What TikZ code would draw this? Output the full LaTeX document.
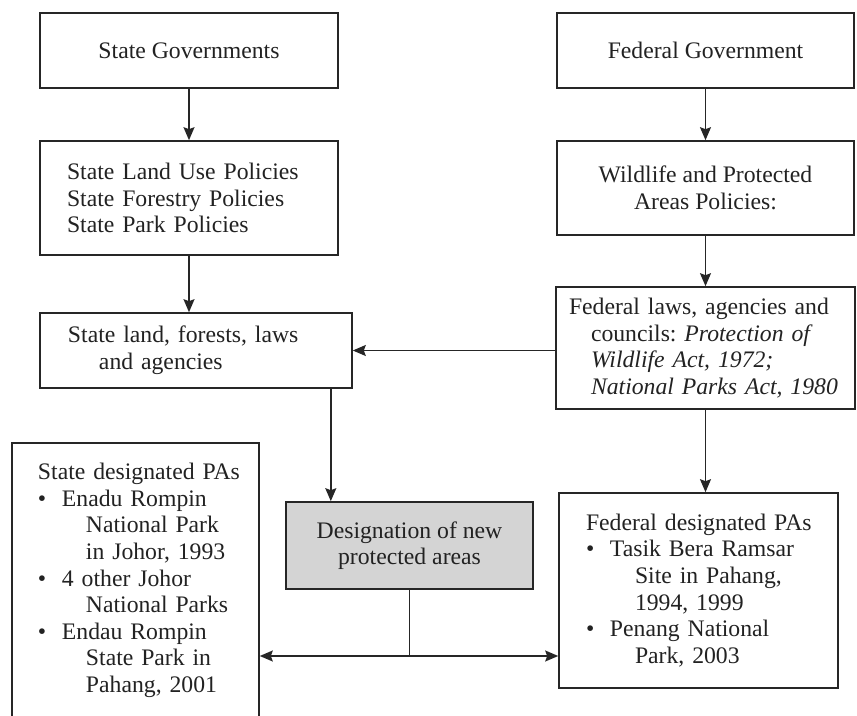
\documentclass[tikz,border=0pt]{standalone}
\usepackage{fontspec}
\setmainfont{Liberation Serif}
\usetikzlibrary{arrows.meta}
\definecolor{boxgray}{RGB}{212,212,212}
\definecolor{ink}{RGB}{34,34,34}
\frenchspacing
\begin{document}
\begin{tikzpicture}[x=0.5pt,y=-0.5pt,
  every node/.style={font=\fontsize{11.85pt}{13.3pt}\selectfont, text=ink},
  box/.style={draw=black!85, line width=0.8pt, inner ysep=0pt, inner xsep=0pt},
  link/.style={draw=black!85, line width=0.8pt},
  arrow/.style={link, -{Stealth[length=6.5pt,width=5.5pt,inset=1pt]}}]
\useasboundingbox (0,0) rectangle (857,716);
\clip (0,0) rectangle (857,716);

% top row: governments
\node[box, minimum width=149pt, minimum height=37.5pt] (b1) at (189,50.5) {State Governments};
\node[box, minimum width=148.5pt, minimum height=37.5pt] (b2) at (705.5,50.5) {Federal Government};

% policies
\node[box, text width=122pt, inner xsep=13.5pt, minimum height=57pt, align=left] (b3) at (189,198)
  {State Land Use Policies\\State Forestry Policies\\State Park Policies};
\node[box, minimum width=148.5pt, minimum height=47pt, align=center] (b4) at (705.5,188)
  {Wildlife and Protected\\Areas Policies:};

% laws and agencies
\node[box, text width=128pt, inner xsep=14pt, minimum height=37.5pt, align=left] (b5) at (196,350.5)
  {State land, forests, laws\\\hspace*{15.5pt}and agencies};
\node[box, text width=136.5pt, inner xsep=6.5pt, minimum height=61pt, align=left] (b6) at (705.5,348)
  {Federal laws, agencies and\\
   \hspace*{11pt}councils: \textit{Protection of}\\
   \hspace*{11pt}\textit{Wildlife Act, 1972;}\\
   \hspace*{11pt}\textit{National Parks Act, 1980}};

% designated protected areas
\node[box, text width=97.5pt, inner xsep=13pt, minimum height=137.5pt, align=left] (b7) at (135.5,580.5)
  {\mbox{State designated PAs}\\
   \textbullet\hspace*{7.85pt}Enadu Rompin\\
   \hspace*{24pt}National Park\\
   \hspace*{24pt}in Johor, 1993\\
   \textbullet\hspace*{7.85pt}4 other Johor\\
   \hspace*{24pt}National Parks\\
   \textbullet\hspace*{7.85pt}Endau Rompin\\
   \hspace*{24pt}State Park in\\
   \hspace*{24pt}Pahang, 2001};
\node[box, fill=boxgray, minimum width=123.5pt, minimum height=43.5pt, align=center] (gb) at (409.5,545.5)
  {Designation of new\\protected areas};
\node[box, text width=112.5pt, inner xsep=13.5pt, minimum height=97.5pt, align=left] (b9) at (698.5,590.5)
  {\mbox{Federal designated PAs}\\
   \textbullet\hspace*{7.85pt}Tasik Bera Ramsar\\
   \hspace*{24.5pt}Site in Pahang,\\
   \hspace*{24.5pt}1994, 1999\\
   \textbullet\hspace*{7.85pt}Penang National\\
   \hspace*{24.5pt}Park, 2003};

% connectors
\draw[arrow] (b1) -- (b3);
\draw[arrow] (b2) -- (b4);
\draw[arrow] (b3.south) -- (b3.south |- b5.north);
\draw[arrow] (b4) -- (b6);
\draw[arrow] (b5.east -| b6.west) -- (b5.east);
\draw[arrow] ([xshift=-11pt]b5.south east) -- ([xshift=-11pt]b5.south east |- gb.north);
\draw[arrow] (b6.south) -- (b6.south |- b9.north);
\coordinate (split) at (gb.south |- 0,656);
\draw[link] (gb.south) -- (split);
\draw[arrow] (split) -- (split -| b7.east);
\draw[arrow] (split) -- (split -| b9.west);
\end{tikzpicture}
\end{document}
